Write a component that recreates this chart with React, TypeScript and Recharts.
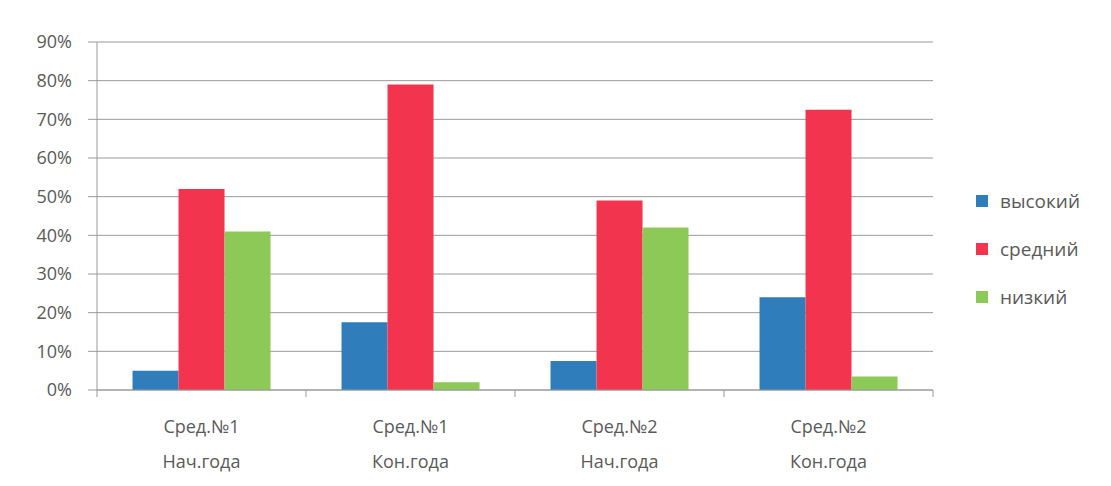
import React from "react";
import {
  BarChart,
  Bar,
  XAxis,
  YAxis,
  CartesianGrid,
  Legend,
} from "recharts";

// categories (two-line labels)
const groupNames = ["Сред.№1", "Сред.№1", "Сред.№2", "Сред.№2"];
const periodNames = ["Нач.года", "Кон.года", "Нач.года", "Кон.года"];

// series values, %
const highValues = [5, 17.5, 7.5, 24];
const midValues = [52, 79, 49, 72.5];
const lowValues = [41, 2, 42, 3.5];

const yTicks = [0, 10, 20, 30, 40, 50, 60, 70, 80, 90];

const seriesNames = ["высокий", "средний", "низкий"];
const colors = ["#2f7dba", "#f2344f", "#8cc957"];

const data = groupNames.map((g, i) => ({
  name: g + "|" + periodNames[i],
  high: highValues[i],
  mid: midValues[i],
  low: lowValues[i],
}));

const textColor = "#5a5a5a";
const gridColor = "#9a9a9a";
const font = "'Open Sans', 'Noto Sans', sans-serif";

const CHART_W = 1111;
const MARGIN_RIGHT = 48;
const LEGEND_W = 130;
const Y_W = 97;
const halfBand = (CHART_W - MARGIN_RIGHT - LEGEND_W - Y_W) / data.length / 2;

const CategoryTick = (props: any) => {
  const { x, y, payload, index } = props;
  const [a, b] = String(payload.value).split("|");
  const ty = y - 10; // axis line position
  return (
    <g>
      <line x1={x - halfBand} x2={x - halfBand} y1={ty} y2={ty + 7} stroke={gridColor} />
      {index === data.length - 1 && (
        <line x1={x + halfBand} x2={x + halfBand} y1={ty} y2={ty + 7} stroke={gridColor} />
      )}
      <text x={x} y={y + 33} textAnchor="middle" fill={textColor} fontSize={18} fontFamily={font}>
        {a}
      </text>
      <text x={x} y={y + 68} textAnchor="middle" fill={textColor} fontSize={18} fontFamily={font}>
        {b}
      </text>
    </g>
  );
};

const LegendBox = () => (
  <div style={{ fontFamily: font, fontSize: 19, color: textColor }}>
    {seriesNames.map((n, i) => (
      <div key={n} style={{ display: "flex", alignItems: "center", height: 48 }}>
        <span
          style={{
            display: "inline-block",
            width: 12,
            height: 12,
            background: colors[i],
            marginRight: 12,
          }}
        />
        {n}
      </div>
    ))}
  </div>
);

export default function App() {
  return (
    <div style={{ position: "absolute", left: 0, top: 0, width: CHART_W, height: 486, background: "#fff" }}>
      <BarChart
        width={CHART_W}
        height={486}
        data={data}
        margin={{ top: 42, right: MARGIN_RIGHT, bottom: 0, left: 0 }}
        barCategoryGap="17%"
        barGap={0}
      >
        <CartesianGrid vertical={false} stroke={gridColor} />
        <XAxis
          dataKey="name"
          height={96}
          tick={<CategoryTick />}
          tickLine={false}
          tickSize={8}
          axisLine={{ stroke: gridColor }}
          interval={0}
        />
        <YAxis
          width={Y_W}
          domain={[0, 90]}
          ticks={yTicks}
          tickFormatter={(v: number) => `${v}%`}
          tick={{ fill: textColor, fontSize: 18, fontFamily: font }}
          tickSize={9}
          tickMargin={16}
          tickLine={{ stroke: gridColor }}
          axisLine={{ stroke: gridColor }}
        />
        <Legend
          layout="vertical"
          align="right"
          verticalAlign="top"
          content={<LegendBox />}
          wrapperStyle={{ left: 976, top: 177, width: LEGEND_W }}
        />
        <Bar dataKey="high" name={seriesNames[0]} fill={colors[0]} isAnimationActive={false} />
        <Bar dataKey="mid" name={seriesNames[1]} fill={colors[1]} isAnimationActive={false} />
        <Bar dataKey="low" name={seriesNames[2]} fill={colors[2]} isAnimationActive={false} />
      </BarChart>
    </div>
  );
}
